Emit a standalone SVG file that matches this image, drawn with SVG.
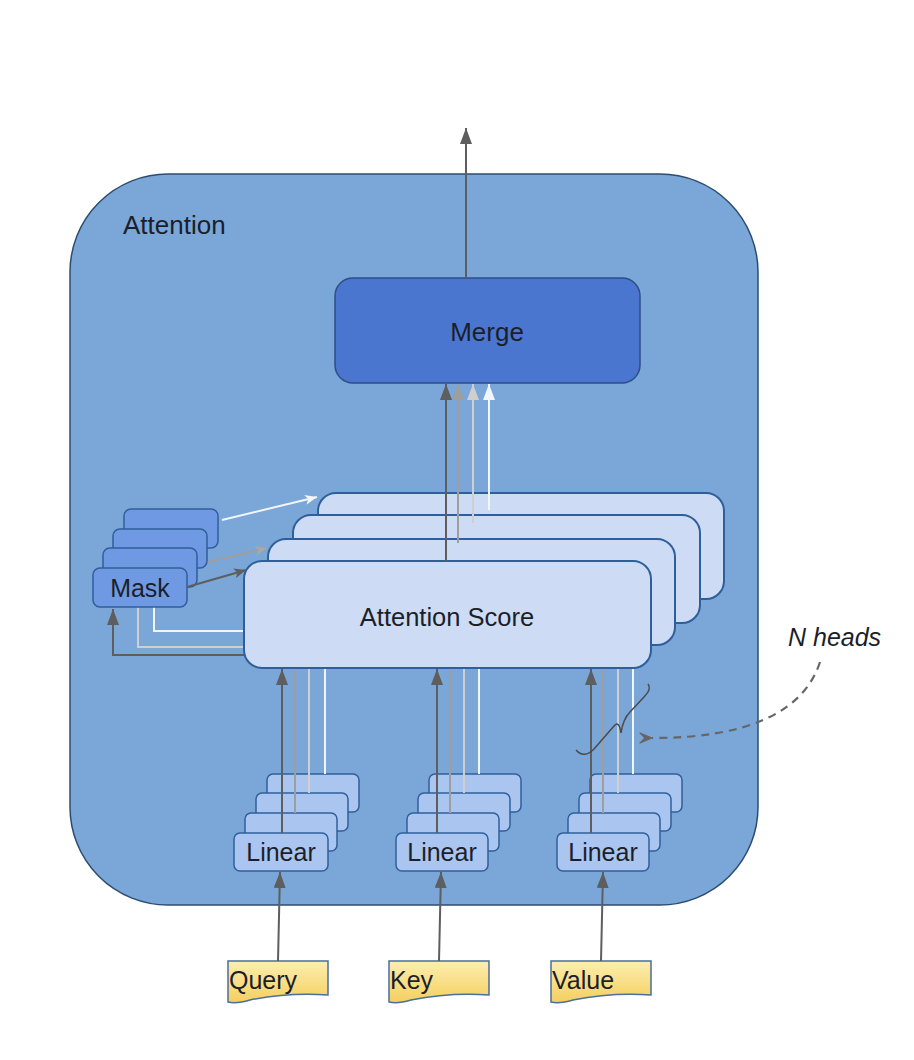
<svg xmlns="http://www.w3.org/2000/svg" width="914" height="1060" viewBox="0 0 914 1060">
<defs>
<style>
.t{font-family:"Liberation Sans",Arial,sans-serif;fill:#1b1f2a}
.outer{fill:#7aa7d8;stroke:#2c4d70;stroke-width:1.5}
.merge{fill:#4a76d0;stroke:#2c4f86;stroke-width:1.5}
.score{fill:#cddcf4;stroke:#2f5f9a;stroke-width:2}
.mask{fill:#6f9ae3;stroke:#2f5f9a;stroke-width:1.5}
.lin{fill:#abc5f1;stroke:#2f5f9a;stroke-width:1.5}
.doc{fill:url(#yel);stroke:#4a6f9a;stroke-width:1.5}
.c1{stroke:#5e5e5e;stroke-width:2;fill:none}
.c2{stroke:#9e9e9e;stroke-width:2;fill:none}
.c3{stroke:#cfcfcf;stroke-width:2;fill:none}
.c4{stroke:#f2f5fb;stroke-width:2;fill:none}
</style>
<linearGradient id="yel" x1="0" y1="0" x2="0" y2="1">
<stop offset="0" stop-color="#fdeeb0"/><stop offset="1" stop-color="#f4cf5e"/>
</linearGradient>
<marker id="a1" viewBox="0 0 16 12" refX="16" refY="6" markerWidth="16" markerHeight="12" markerUnits="userSpaceOnUse" orient="auto"><path d="M0,0 L16,6 L0,12 z" fill="#5e5e5e"/></marker>
<marker id="a2" viewBox="0 0 16 12" refX="16" refY="6" markerWidth="16" markerHeight="12" markerUnits="userSpaceOnUse" orient="auto"><path d="M0,0 L16,6 L0,12 z" fill="#9e9e9e"/></marker>
<marker id="a3" viewBox="0 0 16 12" refX="16" refY="6" markerWidth="16" markerHeight="12" markerUnits="userSpaceOnUse" orient="auto"><path d="M0,0 L16,6 L0,12 z" fill="#cfcfcf"/></marker>
<marker id="a4" viewBox="0 0 16 12" refX="16" refY="6" markerWidth="16" markerHeight="12" markerUnits="userSpaceOnUse" orient="auto"><path d="M0,0 L16,6 L0,12 z" fill="#f2f5fb"/></marker>
<marker id="s1" viewBox="0 0 12 10" refX="12" refY="5" markerWidth="12" markerHeight="10" markerUnits="userSpaceOnUse" orient="auto"><path d="M0,0 L12,5 L0,10 L3,5 z" fill="#5e5e5e"/></marker>
<marker id="s2" viewBox="0 0 12 10" refX="12" refY="5" markerWidth="12" markerHeight="10" markerUnits="userSpaceOnUse" orient="auto"><path d="M0,0 L12,5 L0,10 L3,5 z" fill="#a8a8a8"/></marker>
<marker id="s4" viewBox="0 0 12 10" refX="12" refY="5" markerWidth="12" markerHeight="10" markerUnits="userSpaceOnUse" orient="auto"><path d="M0,0 L12,5 L0,10 L3,5 z" fill="#f2f5fb"/></marker>
<marker id="open" viewBox="0 0 14 12" refX="1" refY="6" markerWidth="14" markerHeight="12" markerUnits="userSpaceOnUse" orient="auto-start-reverse"><path d="M13,1 L1,6 L13,11 L8,6 z" fill="#666" stroke="#666" stroke-width="1.2" stroke-linejoin="round"/></marker>
</defs>

<g id="attention">
<rect class="outer" x="70" y="174" width="688" height="731" rx="98"/>
<text class="t" x="123" y="234" font-size="26">Attention</text>
</g>

<g id="merge">
<rect class="merge" x="335" y="278" width="305" height="105" rx="18"/>
<text class="t" x="487" y="341" font-size="26" text-anchor="middle">Merge</text>
</g>

<g id="connectors-back">
<path class="c4" d="M246,631 H154 V607"/>
<path class="c3" d="M246,647 H138 V607"/>
<path class="c1" d="M246,655 H113 V609" marker-end="url(#a1)"/>
</g>

<g id="mask">
<rect class="mask" x="124" y="509" width="94" height="39" rx="7"/>
<rect class="mask" x="113" y="529" width="94" height="39" rx="7"/>
<rect class="mask" x="103" y="548" width="94" height="39" rx="7"/>
<rect class="mask" x="93" y="568" width="94" height="39" rx="7"/>
<text class="t" x="140" y="597" font-size="25" text-anchor="middle">Mask</text>
</g>

<g id="attention-score">
<rect class="score" x="318" y="493" width="406" height="106" rx="18"/>
<rect class="score" x="293" y="515" width="407" height="108" rx="18"/>
<rect class="score" x="268" y="539" width="407" height="106" rx="18"/>
<rect class="score" x="244" y="561" width="407" height="107" rx="18"/>
<text class="t" x="447" y="626" font-size="25.5" text-anchor="middle">Attention Score</text>
</g>

<g id="linear-q">
<rect class="lin" x="267" y="774" width="92" height="38" rx="6"/>
<rect class="lin" x="256" y="793" width="92" height="38" rx="6"/>
<rect class="lin" x="245" y="813" width="92" height="38" rx="6"/>
<rect class="lin" x="234" y="833" width="94" height="38" rx="6"/>
<text class="t" x="281" y="861" font-size="25" text-anchor="middle">Linear</text>
</g>
<g id="linear-k">
<rect class="lin" x="429" y="774" width="92" height="38" rx="6"/>
<rect class="lin" x="418" y="793" width="92" height="38" rx="6"/>
<rect class="lin" x="407" y="813" width="92" height="38" rx="6"/>
<rect class="lin" x="396" y="833" width="92" height="38" rx="6"/>
<text class="t" x="442" y="861" font-size="25" text-anchor="middle">Linear</text>
</g>
<g id="linear-v">
<rect class="lin" x="590" y="774" width="92" height="38" rx="6"/>
<rect class="lin" x="579" y="793" width="92" height="38" rx="6"/>
<rect class="lin" x="568" y="813" width="92" height="38" rx="6"/>
<rect class="lin" x="557" y="833" width="92" height="38" rx="6"/>
<text class="t" x="603" y="861" font-size="25" text-anchor="middle">Linear</text>
</g>

<g id="query">
<path class="doc" d="M228,961 H328 V995 C300,993 270,996 250,1000 C240,1003 232,1003 228,1002 Z"/>
<text class="t" x="229" y="989" font-size="25">Query</text>
</g>
<g id="key">
<path class="doc" d="M389,961 H489 V995 C461,993 431,996 411,1000 C401,1003 393,1003 389,1002 Z"/>
<text class="t" x="390" y="989" font-size="25">Key</text>
</g>
<g id="value">
<path class="doc" d="M551,961 H651 V995 C623,993 593,996 573,1000 C563,1003 555,1003 551,1002 Z"/>
<text class="t" x="552" y="989" font-size="25">Value</text>
</g>

<g id="n-heads">
<text class="t" x="788" y="646" font-size="25" font-style="italic">N heads</text>
</g>

<g id="connectors">
<path class="c1" d="M466,278 V128" marker-end="url(#a1)"/>
<path class="c1" d="M446,561 V384" marker-end="url(#a1)"/>
<path class="c2" d="M458,543 V384" marker-end="url(#a2)"/>
<path class="c3" d="M473,523 V384" marker-end="url(#a3)"/>
<path class="c4" d="M489,510 V384" marker-end="url(#a4)"/>
<path class="c1" d="M187,587 L246,570" marker-end="url(#s1)"/>
<path class="c2" d="M208,562 L267,548" marker-end="url(#s2)"/>
<path class="c4" d="M222,520 L317,497" marker-end="url(#s4)"/>
<path class="c1" d="M282,833 V669" marker-end="url(#a1)"/>
<path class="c2" d="M295,813 V669"/>
<path class="c3" d="M309,793 V669"/>
<path class="c4" d="M325,774 V669"/>
<path class="c1" d="M437,833 V669" marker-end="url(#a1)"/>
<path class="c2" d="M450,813 V669"/>
<path class="c3" d="M464,793 V669"/>
<path class="c4" d="M479,774 V669"/>
<path class="c1" d="M591,833 V669" marker-end="url(#a1)"/>
<path class="c2" d="M603,813 V669"/>
<path class="c3" d="M618,793 V669"/>
<path class="c4" d="M633,774 V669"/>
<path class="c1" d="M278,961 L280,872" marker-end="url(#a1)"/>
<path class="c1" d="M439,961 L441,872" marker-end="url(#a1)"/>
<path class="c1" d="M601,961 L603,872" marker-end="url(#a1)"/>
<path d="M576,750 Q584,759 594,749 L614,726 Q619,720 621,733 Q623,719 630,712 L644,697 Q652,689 648,684" fill="none" stroke="#4a4a4a" stroke-width="1.5"/>
<path d="M820,662 Q795,738 652,738" fill="none" stroke="#666" stroke-width="2.2" stroke-dasharray="8,6" marker-end="url(#open)"/>
</g>
</svg>
